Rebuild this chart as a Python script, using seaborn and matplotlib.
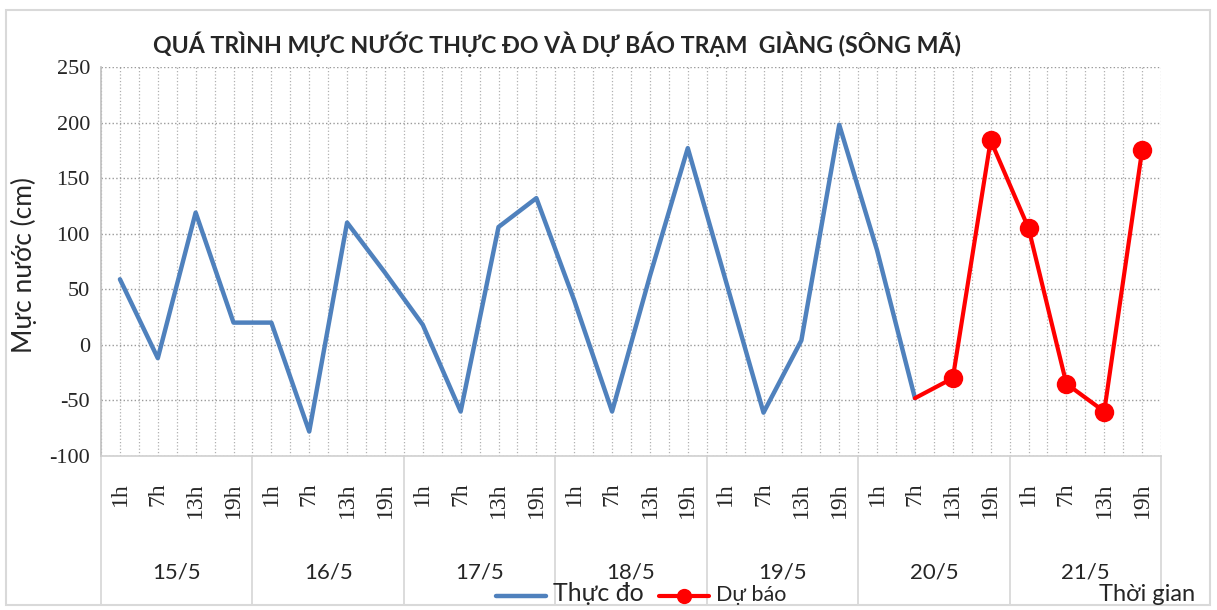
import numpy as np
import pandas as pd
import seaborn as sns
import matplotlib.pyplot as plt
import matplotlib.transforms as mtransforms

# du lieu doc tu hinh
days = ['15/5', '16/5', '17/5', '18/5', '19/5', '20/5', '21/5']
hours = ['1h', '7h', '13h', '19h']
thuc_do = [59, -12, 119, 20,
           20, -78, 110, 65,
           18, -60, 106, 132,
           40, -60, 62, 177,
           58, -61, 4, 198,
           85, -48] + [np.nan] * 6
du_bao = [np.nan] * 21 + [-48, -30, 184, 105, -35, -60, 175]
yticks = [-100, -50, 0, 50, 100, 150, 200, 250]

n = len(days) * len(hours)
df = pd.DataFrame({
    'pos': np.arange(n),
    'gio': hours * len(days),
    'thuc_do': thuc_do,
    'du_bao': du_bao,
})

sns.set_style('white')
sans = ['Lato', 'Noto Sans', 'DejaVu Sans']
serif = ['Liberation Serif', 'DejaVu Serif']
plt.rcParams['font.family'] = sans

fig = plt.figure(figsize=(12.17, 6.1), dpi=100)
ax = fig.add_axes([0.083, 0.2525, 0.871, 0.6377])

sns.lineplot(data=df, x='pos', y='thuc_do', ax=ax, color='#4F81BD',
             linewidth=3.2, legend=False)
# diem dau (20/5 7h) chi noi tiep, khong co marker
sns.lineplot(data=df, x='pos', y='du_bao', ax=ax, color='#FF0000',
             linewidth=3.0, marker='o', markersize=14, markeredgewidth=0,
             markevery=slice(1, None), legend=False)

ax.set_xlim(-0.5, n - 0.5)
ax.set_ylim(-100, 250)
ax.set_yticks(yticks)
ax.set_yticklabels([str(v) for v in yticks], family=serif, fontsize=16)
ax.set_xticks(df['pos'])
ax.set_xticklabels(df['gio'], rotation=90, family=serif, fontsize=17, va='top')
ax.set_xticks(np.arange(-0.5, n, 1.0), minor=True)
ax.tick_params(axis='x', which='both', length=0, pad=19)
ax.tick_params(axis='y', length=0, pad=8)

ax.grid(axis='y', color='#9a9a9a', linestyle=':', linewidth=1.0)
ax.grid(axis='x', which='both', color='#b0b0b0', linestyle=':', linewidth=0.9)
ax.set_axisbelow(True)

for s in ['top', 'right']:
    ax.spines[s].set_visible(False)
ax.spines['left'].set_color('#bfbfbf')
ax.spines['bottom'].set_color('#d0d0d0')
ax.spines['left'].set_linewidth(1.2)
ax.spines['bottom'].set_linewidth(1.2)
ax.set_xlabel('')
ax.set_ylabel('Mực nước (cm)', fontsize=19)
ax.yaxis.set_label_coords(-0.060, 0.49)

# nhom ngay duoi truc x
trans = mtransforms.blended_transform_factory(ax.transData, ax.transAxes)
for i in range(len(days) + 1):
    x = i * 4 - 0.5
    ax.plot([x, x], [0, -0.383], transform=trans, color='#d6d6d6',
            linewidth=1.2, clip_on=False)
for i, d in enumerate(days):
    ax.text(i * 4 + 1.5, -0.30, d, transform=trans, ha='center', va='center',
            fontsize=16)

ax.set_title('QUÁ TRÌNH MỰC NƯỚC THỰC ĐO VÀ DỰ BÁO TRẠM  GIÀNG (SÔNG MÃ)',
             fontsize=16.7, fontweight='bold', x=0.43, pad=10)

lines = ax.get_lines()
leg = fig.legend([lines[0], lines[1]], ['Thực đo', 'Dự báo'], loc='center',
                 bbox_to_anchor=(0.527, 0.027), ncol=2, frameon=False,
                 handlelength=3.6, columnspacing=1.1, handletextpad=0.5,
                 borderaxespad=0)
leg.get_texts()[0].set_fontsize(18)
leg.get_texts()[1].set_fontsize(15.5)
leg.legend_handles[1].set_markersize(11)

fig.text(0.982, 0.026, 'Thời gian', ha='right', va='center', fontsize=17)

# khung ngoai
fig.patches.append(plt.Rectangle((0.005, 0.008), 0.989, 0.976,
                                 transform=fig.transFigure, fill=False,
                                 edgecolor='#d9d9d9', linewidth=1.5))

fig.savefig('out.png', dpi=100)
